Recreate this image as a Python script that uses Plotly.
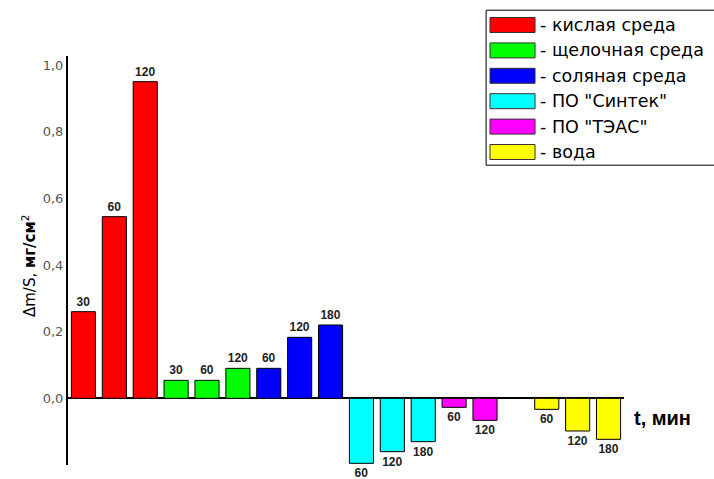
import plotly.graph_objects as go

# series of the chart: name, colour, exposure time (min), mass change (mg/cm2)
names = ["кислая среда", "щелочная среда", "соляная среда", 'ПО "Синтек"', 'ПО "ТЭАС"', "вода"]
colors = ["#FF0000", "#00FF00", "#0000FF", "#00FFFF", "#FF00FF", "#FFFF00"]

acid_t = [30, 60, 120]
acid_v = [0.26, 0.545, 0.95]
alkali_t = [30, 60, 120]
alkali_v = [0.054, 0.054, 0.09]
salt_t = [60, 120, 180]
salt_v = [0.09, 0.183, 0.22]
sintek_t = [60, 120, 180]
sintek_v = [-0.195, -0.16, -0.13]
teas_t = [60, 120]
teas_v = [-0.027, -0.066]
water_t = [60, 120, 180]
water_v = [-0.033, -0.098, -0.123]

series_t = [acid_t, alkali_t, salt_t, sintek_t, teas_t, water_t]
series_v = [acid_v, alkali_v, salt_v, sintek_v, teas_v, water_v]

FONT = "Liberation Sans, Arial, sans-serif"
WIDE = "DejaVu Sans, Verdana, sans-serif"

fig = go.Figure()
slot = 0
for i, (name, color, t, v) in enumerate(zip(names, colors, series_t, series_v)):
    if name == "вода":
        slot += 1  # empty slot before the water series
    xs = list(range(slot, slot + len(v)))
    slot += len(v)
    fig.add_trace(go.Bar(
        x=xs, y=v, name=name, width=0.78,
        marker=dict(color=color, line=dict(color="#000000", width=1)),
        text=[str(x) for x in t], texttemplate="<b>%{text}</b>",
        textposition="outside", cliponaxis=False,
        textfont=dict(family=FONT, size=12, color="#222222"),
        showlegend=False,
    ))

# hand-drawn legend box with wide swatches
shapes = [dict(type="rect", xref="paper", yref="paper", x0=0.752, x1=1.17, y0=0.733, y1=1.112,
               line=dict(color="#000000", width=1), fillcolor="#FFFFFF", layer="below")]
annotations = []
for i, (name, color) in enumerate(zip(names, colors)):
    py = 25 + 25.4 * i
    yc = (465 - py) / 409
    shapes.append(dict(type="rect", xref="paper", yref="paper", x0=0.759, x1=0.840,
                       y0=yc - 7.5 / 409, y1=yc + 7.5 / 409,
                       line=dict(color="#333333", width=1), fillcolor=color))
    annotations.append(dict(xref="paper", yref="paper", x=0.845, y=yc, text="- " + name,
                            showarrow=False, xanchor="left", yanchor="middle",
                            font=dict(family=WIDE, size=17.5, color="#000000")))

annotations.append(dict(xref="paper", yref="paper", x=(29 - 68) / 556, y=(465 - 266) / 409,
                        textangle=-90, xanchor="center", yanchor="middle",
                        text="Δm/S, <b>мг/см</b><sup>2</sup>", showarrow=False,
                        font=dict(family=WIDE, size=15, color="#000000")))
annotations.append(dict(xref="paper", yref="paper", x=(662 - 68) / 556, y=(465 - 418) / 409,
                        xanchor="center", yanchor="middle", text="<b>t, мин</b>",
                        showarrow=False, font=dict(family=FONT, size=20, color="#000000")))

fig.update_layout(
    width=714, height=479,
    margin=dict(l=68, r=90, t=56, b=14),
    plot_bgcolor="#FFFFFF", paper_bgcolor="#FFFFFF",
    barmode="overlay",
    separators=", ",
    shapes=shapes, annotations=annotations,
    xaxis=dict(range=[-0.5, 17.5], visible=False, showgrid=False),
    yaxis=dict(range=[-0.2, 1.027], tickvals=[0, 0.2, 0.4, 0.6, 0.8, 1.0], tickformat=".1f",
               showgrid=False, ticks="", showline=True, linecolor="#000000", linewidth=2,
               zeroline=True, zerolinecolor="#000000", zerolinewidth=2,
               tickfont=dict(family=WIDE, size=13, color="#555555")),
    font=dict(family=FONT),
)

fig.write_html("out.html", config={"displayModeBar": False},
               post_script="document.body.style.margin='0';")
